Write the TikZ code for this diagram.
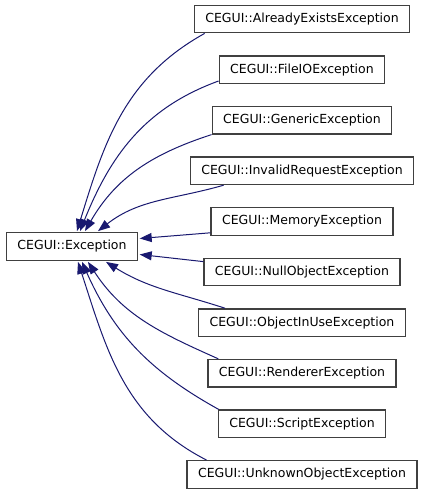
\documentclass[tikz,border=0pt]{standalone}
\usepackage{fontspec}
\setmainfont{DejaVu Sans}
\usetikzlibrary{positioning,arrows.meta}
\definecolor{edgeblue}{RGB}{25,25,112}
\definecolor{boxgray}{RGB}{64,64,64}

\begin{document}
\begin{tikzpicture}[x=1pt,y=1pt,font=\fontsize{12.5}{15}\selectfont,
      cls/.style={draw=boxgray,line width=1.3pt,fill=white,inner xsep=11pt,inner ysep=0pt,minimum height=27.5pt},
      inh/.style={draw=edgeblue,line width=1pt,{Triangle[length=12pt,width=9pt,fill=edgeblue]}-}]
    \useasboundingbox[fill=white] (0,0) rectangle (424,-493);
    % base class
    \node[cls] (ex) at (72,-246.5) {CEGUI::Exception};
    % derived classes
    \node[cls] (ae) at (302,-19) {CEGUI::AlreadyExistsException};
    \node[cls,below=21.8pt of ae] (fio) {CEGUI::FileIOException};
    \node[cls,below=21.8pt of fio] (gen) {CEGUI::GenericException};
    \node[cls,below=21.8pt of gen] (ir) {CEGUI::InvalidRequestException};
    \node[cls,below=21.8pt of ir] (mem) {CEGUI::MemoryException};
    \node[cls,below=21.8pt of mem] (nul) {CEGUI::NullObjectException};
    \node[cls,below=21.8pt of nul] (oiu) {CEGUI::ObjectInUseException};
    \node[cls,below=21.8pt of oiu] (ren) {CEGUI::RendererException};
    \node[cls,below=21.8pt of ren] (scr) {CEGUI::ScriptException};
    \node[cls,below=21.8pt of scr] (unk) {CEGUI::UnknownObjectException};
    % inheritance
    \draw[inh] ([xshift=5pt,yshift=1pt]ex.north) to[out=73,in=209] ([xshift=11pt]ae.south west);
    \draw[inh] ([xshift=8pt,yshift=1pt]ex.north) to[out=68,in=200] ([yshift=3pt]fio.south west);
    \draw[inh] ([xshift=13pt,yshift=1pt]ex.north) to[out=60,in=198] (gen.south west);
    \draw[inh] ([xshift=26pt,yshift=1pt]ex.north) to[out=38,in=196] ([xshift=34pt]ir.south west);
    \draw[inh] ([xshift=1.5pt,yshift=8pt]ex.east) -- ([yshift=3pt]mem.south west);
    \draw[inh] ([xshift=1.5pt,yshift=-8pt]ex.east) -- ([yshift=-4pt]nul.north west);
    \draw[inh] ([xshift=34pt,yshift=-1pt]ex.south) to[out=-32,in=162] ([xshift=27pt]oiu.north west);
    \draw[inh] ([xshift=16pt,yshift=-1pt]ex.south) to[out=-57,in=156] ([xshift=11pt]ren.north west);
    \draw[inh] ([xshift=10pt,yshift=-1pt]ex.south) to[out=-66,in=151] ([xshift=1pt]scr.north west);
    \draw[inh] ([xshift=6pt,yshift=-1pt]ex.south) to[out=-72,in=153] ([xshift=20pt]unk.north west);
\end{tikzpicture}
\end{document}
